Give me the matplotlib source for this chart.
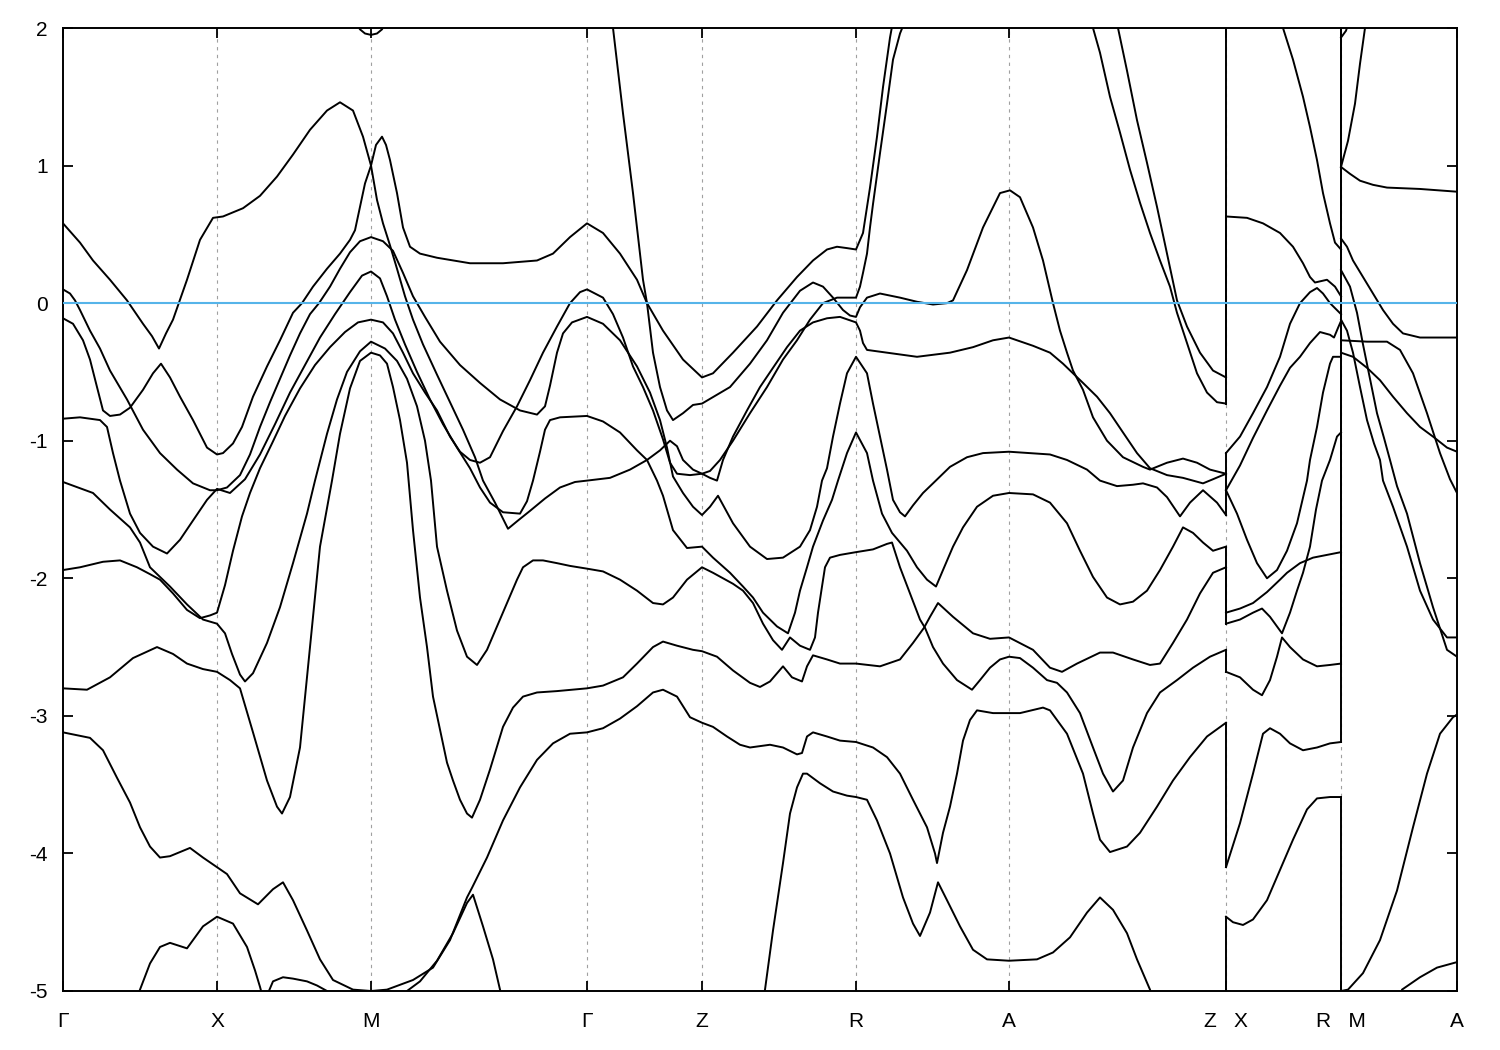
import matplotlib
matplotlib.use("Agg")
from matplotlib import pyplot as plt

plt.rcParams["font.family"] = ["Liberation Sans", "DejaVu Sans"]
plt.rcParams["axes.unicode_minus"] = False

# k-path positions (arbitrary path units) and labels
K_TICKS = [0.00, 1.54, 3.08, 5.24, 6.39, 7.93, 9.46, 11.63, 12.78, 13.94]
K_LABELS = ["Γ", "X", "M", "Γ", "Z", "R", "A", "Z   X", "R   M", "A"]
K_ZX = 11.63   # discontinuity Z | X
K_RM = 12.78   # discontinuity R | M
E_TICKS = [2, 1, 0, -1, -2, -3, -4, -5]

# band energies (eV) that lie outside the window at the jumps
Z_HIDDEN = [-5.6]
M_HIDDEN = [2.6]

# ---- path Γ-X-M-Γ-Z-R-A-Z : (k, E) ----
c01 = [(0.00, 0.58), (0.17, 0.44), (0.30, 0.31), (0.47, 0.17), (0.64, 0.02), (0.80, -0.15), (0.89, -0.24),
       (0.96, -0.33), (1.03, -0.22), (1.10, -0.12), (1.24, 0.17), (1.37, 0.46), (1.50, 0.62), (1.60, 0.63),
       (1.80, 0.69), (1.97, 0.78), (2.14, 0.92), (2.30, 1.08), (2.47, 1.26), (2.64, 1.40), (2.77, 1.46),
       (2.90, 1.40), (3.00, 1.21), (3.08, 1.00), (3.14, 0.75), (3.20, 0.58), (3.27, 0.42), (3.34, 0.25),
       (3.42, 0.05), (3.50, -0.12), (3.60, -0.30), (3.74, -0.52), (3.87, -0.72), (4.00, -0.92), (4.12, -1.12),
       (4.20, -1.29), (4.32, -1.45), (4.45, -1.64), (4.55, -1.58), (4.67, -1.51), (4.82, -1.42), (4.97, -1.34),
       (5.12, -1.30), (5.24, -1.29), (5.47, -1.27), (5.67, -1.21), (5.84, -1.14), (5.97, -1.07), (6.07, -1.00),
       (6.14, -1.04), (6.20, -1.14), (6.30, -1.21), (6.39, -1.24), (6.47, -1.27), (6.54, -1.29), (6.60, -1.14),
       (6.70, -0.97), (6.84, -0.78), (6.97, -0.61), (7.10, -0.47), (7.24, -0.32), (7.37, -0.20), (7.50, -0.14),
       (7.64, -0.11), (7.77, -0.10), (7.93, -0.14), (7.97, -0.20), (8.00, -0.29), (8.04, -0.34), (8.24, -0.36),
       (8.54, -0.39), (8.87, -0.36), (9.10, -0.32), (9.30, -0.27), (9.46, -0.25), (9.70, -0.31), (9.87, -0.36),
       (10.00, -0.44), (10.10, -0.51), (10.20, -0.58), (10.34, -0.68), (10.47, -0.80), (10.60, -0.94),
       (10.74, -1.09), (10.87, -1.20), (11.04, -1.25), (11.20, -1.27), (11.40, -1.31), (11.50, -1.28),
       (11.63, -1.24)]
c02 = [(0.00, 0.10), (0.07, 0.07), (0.12, 0.02), (0.17, -0.05), (0.27, -0.20), (0.37, -0.33), (0.47, -0.49),
       (0.64, -0.70), (0.80, -0.92), (0.97, -1.09), (1.14, -1.21), (1.30, -1.31), (1.47, -1.36), (1.54, -1.36),
       (1.64, -1.34), (1.77, -1.25), (1.87, -1.10), (1.97, -0.90), (2.07, -0.72), (2.17, -0.55), (2.27, -0.38),
       (2.37, -0.22), (2.47, -0.08), (2.56, 0.00), (2.67, 0.12), (2.77, 0.25), (2.87, 0.37), (2.97, 0.45),
       (3.08, 0.48), (3.20, 0.45), (3.30, 0.38), (3.40, 0.22), (3.50, 0.05), (3.62, -0.10), (3.77, -0.28),
       (3.97, -0.45), (4.17, -0.58), (4.37, -0.70), (4.57, -0.78), (4.74, -0.81), (4.82, -0.75), (4.87, -0.60),
       (4.94, -0.36), (5.00, -0.22), (5.09, -0.14), (5.24, -0.10), (5.40, -0.15), (5.57, -0.27), (5.74, -0.46),
       (5.87, -0.65), (5.97, -0.85), (6.04, -1.05), (6.10, -1.26), (6.20, -1.38), (6.30, -1.48), (6.39, -1.54),
       (6.47, -1.48), (6.55, -1.40), (6.70, -1.60), (6.87, -1.77), (7.04, -1.86), (7.20, -1.85), (7.37, -1.77),
       (7.47, -1.65), (7.54, -1.48), (7.59, -1.29), (7.64, -1.20), (7.70, -0.97), (7.77, -0.73), (7.84, -0.51),
       (7.93, -0.39), (8.04, -0.51), (8.10, -0.73), (8.17, -0.97), (8.24, -1.21), (8.30, -1.43), (8.37, -1.52),
       (8.42, -1.55), (8.50, -1.47), (8.60, -1.38), (8.70, -1.31), (8.87, -1.19), (9.04, -1.12), (9.20, -1.09),
       (9.46, -1.08), (9.87, -1.10), (10.04, -1.14), (10.24, -1.21), (10.37, -1.29), (10.54, -1.33),
       (10.70, -1.32), (10.80, -1.31), (10.94, -1.34), (11.04, -1.41), (11.17, -1.55), (11.27, -1.45),
       (11.40, -1.36), (11.54, -1.45), (11.63, -1.54)]
c03 = [(0.00, -0.11), (0.10, -0.15), (0.20, -0.27), (0.27, -0.41), (0.34, -0.61), (0.40, -0.78), (0.47, -0.82),
       (0.57, -0.81), (0.67, -0.76), (0.80, -0.63), (0.90, -0.51), (0.98, -0.44), (1.07, -0.54), (1.17, -0.68),
       (1.30, -0.85), (1.44, -1.05), (1.54, -1.10), (1.60, -1.09), (1.70, -1.02), (1.79, -0.90), (1.90, -0.68),
       (2.04, -0.46), (2.17, -0.27), (2.30, -0.07), (2.39, 0.00), (2.50, 0.12), (2.64, 0.25), (2.77, 0.36),
       (2.87, 0.46), (2.92, 0.53), (2.97, 0.70), (3.02, 0.87), (3.08, 1.00), (3.13, 1.15), (3.19, 1.21),
       (3.23, 1.15), (3.27, 1.04), (3.34, 0.80), (3.40, 0.55), (3.47, 0.41), (3.57, 0.36), (3.74, 0.33),
       (4.07, 0.29), (4.40, 0.29), (4.74, 0.31), (4.90, 0.36), (5.07, 0.48), (5.24, 0.58), (5.40, 0.51),
       (5.57, 0.36), (5.74, 0.17), (5.84, 0.00), (6.00, -0.20), (6.20, -0.41), (6.39, -0.54), (6.50, -0.51),
       (6.70, -0.36), (6.94, -0.17), (7.14, 0.02), (7.34, 0.19), (7.50, 0.31), (7.64, 0.39), (7.74, 0.41),
       (7.84, 0.40), (7.93, 0.39), (8.00, 0.51), (8.07, 0.84), (8.14, 1.21), (8.20, 1.57), (8.27, 1.93),
       (8.30, 2.05)]
c04 = [(0.00, -0.84), (0.17, -0.83), (0.37, -0.85), (0.44, -0.90), (0.50, -1.09), (0.57, -1.29), (0.67, -1.53),
       (0.77, -1.67), (0.90, -1.77), (1.04, -1.82), (1.17, -1.72), (1.30, -1.58), (1.44, -1.43), (1.54, -1.35),
       (1.67, -1.38), (1.82, -1.28), (1.97, -1.10), (2.12, -0.88), (2.27, -0.65), (2.42, -0.45), (2.57, -0.25),
       (2.72, -0.08), (2.87, 0.08), (2.99, 0.20), (3.08, 0.23), (3.17, 0.18), (3.24, 0.05), (3.32, -0.12),
       (3.42, -0.30), (3.54, -0.50), (3.67, -0.70), (3.80, -0.88), (3.94, -1.05), (4.07, -1.20), (4.17, -1.34),
       (4.27, -1.45), (4.40, -1.52), (4.57, -1.53), (4.64, -1.44), (4.70, -1.29), (4.77, -1.08), (4.82, -0.92),
       (4.87, -0.85), (4.97, -0.83), (5.24, -0.82), (5.40, -0.86), (5.57, -0.94), (5.74, -1.07), (5.84, -1.14),
       (5.94, -1.29), (6.00, -1.40), (6.10, -1.65), (6.24, -1.78), (6.39, -1.77), (6.50, -1.85), (6.67, -1.96),
       (6.80, -2.06), (6.90, -2.14), (7.00, -2.25), (7.14, -2.35), (7.25, -2.40), (7.32, -2.25), (7.37, -2.09),
       (7.44, -1.92), (7.50, -1.77), (7.60, -1.58), (7.69, -1.43), (7.75, -1.29), (7.84, -1.09), (7.93, -0.94),
       (8.04, -1.09), (8.10, -1.29), (8.19, -1.53), (8.29, -1.67), (8.44, -1.80), (8.54, -1.92), (8.64, -2.01),
       (8.73, -2.06), (8.80, -1.94), (8.90, -1.77), (9.00, -1.63), (9.14, -1.48), (9.30, -1.40), (9.46, -1.38),
       (9.70, -1.39), (9.87, -1.45), (10.04, -1.60), (10.17, -1.80), (10.30, -1.99), (10.44, -2.14),
       (10.57, -2.19), (10.70, -2.17), (10.84, -2.09), (10.97, -1.94), (11.10, -1.77), (11.20, -1.63),
       (11.30, -1.67), (11.40, -1.74), (11.50, -1.80), (11.63, -1.77)]
c05 = [(0.00, -1.30), (0.30, -1.38), (0.47, -1.50), (0.67, -1.63), (0.77, -1.74), (0.87, -1.92), (0.97, -1.99),
       (1.07, -2.06), (1.24, -2.19), (1.40, -2.30), (1.54, -2.33), (1.62, -2.40), (1.69, -2.55), (1.77, -2.70),
       (1.82, -2.75), (1.90, -2.69), (2.04, -2.47), (2.17, -2.21), (2.30, -1.89), (2.44, -1.53), (2.52, -1.29),
       (2.64, -0.95), (2.74, -0.70), (2.84, -0.50), (2.97, -0.35), (3.08, -0.28), (3.22, -0.33), (3.34, -0.42),
       (3.44, -0.55), (3.54, -0.75), (3.62, -1.00), (3.68, -1.29), (3.74, -1.77), (3.84, -2.09), (3.94, -2.38),
       (4.04, -2.57), (4.14, -2.63), (4.24, -2.52), (4.34, -2.35), (4.44, -2.18), (4.54, -2.01), (4.60, -1.92),
       (4.70, -1.87), (4.80, -1.87), (4.94, -1.89), (5.07, -1.91), (5.24, -1.93), (5.40, -1.95), (5.57, -2.01),
       (5.74, -2.09), (5.90, -2.18), (6.00, -2.19), (6.10, -2.14), (6.24, -2.01), (6.39, -1.92), (6.50, -1.96),
       (6.70, -2.04), (6.80, -2.09), (6.90, -2.18), (7.00, -2.33), (7.10, -2.45), (7.19, -2.52), (7.27, -2.43),
       (7.37, -2.49), (7.47, -2.52), (7.52, -2.43), (7.55, -2.25), (7.59, -2.06), (7.62, -1.92), (7.67, -1.85),
       (7.77, -1.83), (7.93, -1.81), (8.10, -1.79), (8.24, -1.75), (8.29, -1.74), (8.37, -1.92), (8.47, -2.11),
       (8.57, -2.30), (8.62, -2.36), (8.70, -2.50), (8.80, -2.62), (8.94, -2.74), (9.09, -2.81), (9.17, -2.74),
       (9.27, -2.65), (9.37, -2.59), (9.46, -2.57), (9.57, -2.58), (9.70, -2.65), (9.84, -2.74), (9.94, -2.76),
       (10.04, -2.83), (10.17, -2.98), (10.30, -3.23), (10.40, -3.42), (10.50, -3.55), (10.60, -3.47),
       (10.70, -3.23), (10.84, -2.98), (10.97, -2.83), (11.14, -2.74), (11.30, -2.65), (11.47, -2.57),
       (11.63, -2.52)]
c06 = [(0.00, -1.94), (0.17, -1.92), (0.40, -1.88), (0.57, -1.87), (0.74, -1.92), (0.87, -1.97), (0.97, -2.01),
       (1.10, -2.11), (1.24, -2.23), (1.37, -2.29), (1.47, -2.27), (1.54, -2.25), (1.62, -2.05), (1.70, -1.80),
       (1.79, -1.55), (1.87, -1.38), (1.97, -1.20), (2.09, -1.02), (2.22, -0.82), (2.37, -0.62), (2.52, -0.45),
       (2.67, -0.32), (2.82, -0.21), (2.95, -0.14), (3.08, -0.12), (3.20, -0.14), (3.30, -0.22), (3.40, -0.36),
       (3.50, -0.51), (3.62, -0.65), (3.74, -0.78), (3.87, -0.97), (3.97, -1.08), (4.07, -1.14), (4.17, -1.16),
       (4.27, -1.12), (4.40, -0.93), (4.54, -0.75), (4.67, -0.56), (4.80, -0.36), (4.94, -0.17), (5.07, 0.00),
       (5.17, 0.08), (5.24, 0.10), (5.40, 0.04), (5.50, -0.08), (5.60, -0.25), (5.70, -0.46), (5.80, -0.61),
       (5.90, -0.78), (6.00, -0.99), (6.07, -1.16), (6.14, -1.24), (6.27, -1.25), (6.39, -1.24), (6.47, -1.22),
       (6.57, -1.14), (6.70, -1.00), (6.87, -0.80), (7.04, -0.61), (7.20, -0.41), (7.34, -0.27), (7.47, -0.12),
       (7.60, 0.00), (7.74, 0.04), (7.93, 0.04), (7.97, 0.12), (8.00, 0.22), (8.04, 0.36), (8.07, 0.55),
       (8.10, 0.72), (8.17, 1.09), (8.24, 1.45), (8.30, 1.77), (8.37, 1.96), (8.42, 2.05)]
c07 = [(0.00, -2.80), (0.24, -2.81), (0.47, -2.72), (0.70, -2.58), (0.94, -2.50), (1.10, -2.55), (1.24, -2.62),
       (1.40, -2.66), (1.54, -2.68), (1.67, -2.74), (1.77, -2.80), (1.90, -3.12), (2.04, -3.47), (2.14, -3.66),
       (2.19, -3.71), (2.27, -3.59), (2.37, -3.23), (2.47, -2.50), (2.57, -1.77), (2.69, -1.29), (2.77, -0.95),
       (2.87, -0.62), (2.97, -0.42), (3.08, -0.36), (3.17, -0.38), (3.24, -0.44), (3.30, -0.61), (3.37, -0.85),
       (3.44, -1.16), (3.50, -1.65), (3.57, -2.14), (3.64, -2.50), (3.70, -2.86), (3.77, -3.10), (3.84, -3.34),
       (3.90, -3.47), (3.97, -3.61), (4.04, -3.71), (4.09, -3.74), (4.17, -3.61), (4.27, -3.39), (4.40, -3.08),
       (4.50, -2.94), (4.60, -2.86), (4.74, -2.83), (4.94, -2.82), (5.24, -2.80), (5.40, -2.78), (5.60, -2.72),
       (5.74, -2.62), (5.90, -2.50), (6.00, -2.46), (6.14, -2.49), (6.30, -2.52), (6.39, -2.53), (6.54, -2.57),
       (6.70, -2.67), (6.87, -2.76), (6.97, -2.79), (7.07, -2.75), (7.20, -2.64), (7.29, -2.72), (7.39, -2.75),
       (7.44, -2.64), (7.50, -2.56), (7.64, -2.59), (7.77, -2.62), (7.93, -2.62), (8.17, -2.64), (8.37, -2.59),
       (8.50, -2.47), (8.61, -2.36), (8.67, -2.28), (8.75, -2.18), (8.90, -2.28), (9.10, -2.40), (9.27, -2.44),
       (9.46, -2.43), (9.70, -2.52), (9.87, -2.65), (9.99, -2.68), (10.14, -2.62), (10.37, -2.54),
       (10.50, -2.54), (10.70, -2.59), (10.87, -2.63), (10.97, -2.62), (11.10, -2.47), (11.24, -2.30),
       (11.37, -2.11), (11.50, -1.96), (11.63, -1.92)]
c08 = [(0.00, -3.12), (0.27, -3.16), (0.40, -3.25), (0.54, -3.45), (0.67, -3.63), (0.77, -3.81), (0.87, -3.95),
       (0.97, -4.03), (1.07, -4.02), (1.27, -3.96), (1.40, -4.03), (1.54, -4.10), (1.64, -4.15), (1.77, -4.29),
       (1.95, -4.37), (2.10, -4.26), (2.20, -4.21), (2.30, -4.34), (2.44, -4.56), (2.57, -4.77), (2.70, -4.92),
       (2.90, -4.99), (3.08, -5.00), (3.24, -4.99), (3.50, -4.92), (3.70, -4.83), (3.87, -4.63), (4.04, -4.32),
       (4.09, -4.25), (4.24, -4.03), (4.40, -3.76), (4.57, -3.52), (4.74, -3.32), (4.90, -3.20), (5.07, -3.13),
       (5.24, -3.12), (5.40, -3.09), (5.57, -3.02), (5.74, -2.93), (5.90, -2.83), (6.00, -2.81), (6.14, -2.86),
       (6.27, -3.01), (6.39, -3.05), (6.50, -3.08), (6.64, -3.15), (6.77, -3.21), (6.87, -3.23), (7.07, -3.21),
       (7.20, -3.23), (7.34, -3.28), (7.39, -3.27), (7.44, -3.15), (7.50, -3.12), (7.64, -3.15), (7.77, -3.18),
       (7.93, -3.19), (8.10, -3.23), (8.24, -3.30), (8.37, -3.42), (8.50, -3.61), (8.64, -3.81), (8.72, -4.00),
       (8.74, -4.07), (8.80, -3.85), (8.87, -3.66), (8.94, -3.42), (9.00, -3.18), (9.07, -3.03), (9.14, -2.96),
       (9.30, -2.98), (9.46, -2.98), (9.57, -2.98), (9.80, -2.94), (9.87, -2.96), (10.04, -3.13), (10.20, -3.42),
       (10.30, -3.71), (10.37, -3.90), (10.47, -3.99), (10.64, -3.95), (10.77, -3.85), (10.94, -3.66),
       (11.10, -3.47), (11.27, -3.30), (11.44, -3.15), (11.63, -3.05)]
c09 = [(0.74, -5.05), (0.77, -4.99), (0.87, -4.80), (0.97, -4.68), (1.07, -4.65), (1.24, -4.69), (1.40, -4.53),
       (1.54, -4.46), (1.70, -4.51), (1.84, -4.68), (1.92, -4.85), (1.97, -4.97), (2.00, -5.05)]
c10 = [(2.03, -5.05), (2.10, -4.93), (2.20, -4.90), (2.30, -4.91), (2.44, -4.93), (2.54, -4.96), (2.64, -5.00),
       (2.72, -5.05)]
c11 = [(3.37, -5.05), (3.44, -5.00), (3.57, -4.93), (3.74, -4.78), (3.90, -4.58), (4.04, -4.36), (4.10, -4.30),
       (4.20, -4.53), (4.30, -4.77), (4.37, -4.99), (4.39, -5.05)]
c12 = [(7.00, -5.05), (7.02, -4.99), (7.10, -4.56), (7.20, -4.07), (7.27, -3.71), (7.34, -3.52), (7.40, -3.42),
       (7.44, -3.42), (7.57, -3.49), (7.70, -3.55), (7.84, -3.58), (7.93, -3.59), (8.04, -3.61), (8.14, -3.76),
       (8.27, -4.00), (8.40, -4.32), (8.50, -4.51), (8.57, -4.60), (8.67, -4.43), (8.75, -4.21), (8.84, -4.34),
       (8.97, -4.53), (9.10, -4.70), (9.24, -4.77), (9.46, -4.78), (9.74, -4.77), (9.90, -4.72), (10.07, -4.61),
       (10.24, -4.43), (10.37, -4.32), (10.50, -4.41), (10.64, -4.58), (10.74, -4.77), (10.87, -4.99),
       (10.89, -5.05)]
c13 = [(5.49, 2.05), (5.50, 2.00), (5.60, 1.38), (5.70, 0.80), (5.80, 0.17), (5.84, 0.00), (5.90, -0.36),
       (5.97, -0.61), (6.04, -0.78), (6.10, -0.85), (6.20, -0.80), (6.30, -0.74), (6.39, -0.73), (6.67, -0.61),
       (6.87, -0.44), (7.04, -0.27), (7.20, -0.07), (7.37, 0.09), (7.50, 0.15), (7.60, 0.12), (7.70, 0.04),
       (7.80, -0.05), (7.87, -0.09), (7.93, -0.10), (7.97, -0.03), (8.04, 0.04), (8.17, 0.07), (8.37, 0.04),
       (8.54, 0.01), (8.70, -0.01), (8.84, 0.00), (8.90, 0.02), (9.04, 0.24), (9.20, 0.55), (9.37, 0.80),
       (9.47, 0.82), (9.57, 0.77), (9.70, 0.55), (9.80, 0.31), (9.90, 0.00), (9.97, -0.20), (10.04, -0.36),
       (10.10, -0.49), (10.20, -0.63), (10.30, -0.83), (10.44, -1.00), (10.60, -1.12), (10.80, -1.19),
       (10.87, -1.21), (11.04, -1.16), (11.20, -1.13), (11.34, -1.16), (11.47, -1.21), (11.63, -1.24)]
c14 = [(10.29, 2.05), (10.30, 2.00), (10.37, 1.82), (10.47, 1.50), (10.57, 1.24), (10.67, 0.97), (10.77, 0.73),
       (10.87, 0.51), (10.97, 0.31), (11.07, 0.12), (11.14, -0.07), (11.24, -0.29), (11.34, -0.51),
       (11.44, -0.65), (11.54, -0.72), (11.63, -0.73)]
c15 = [(10.54, 2.05), (10.55, 2.00), (10.64, 1.69), (10.74, 1.33), (10.84, 1.02), (10.94, 0.70), (11.04, 0.36),
       (11.14, 0.02), (11.24, -0.17), (11.37, -0.36), (11.50, -0.49), (11.63, -0.54)]
c16 = [(2.92, 2.05), (2.97, 1.99), (3.02, 1.96), (3.08, 1.95), (3.14, 1.96), (3.19, 1.99), (3.23, 2.05)]

# ---- path X-R ----
d01 = [(11.63, 2.60), (12.19, 2.05), (12.20, 2.00), (12.30, 1.77), (12.40, 1.50), (12.47, 1.28), (12.54, 1.04),
       (12.60, 0.80), (12.67, 0.58), (12.72, 0.44), (12.78, 0.39)]
d02 = [(11.63, 0.63), (11.84, 0.62), (12.00, 0.58), (12.17, 0.51), (12.30, 0.41), (12.40, 0.29), (12.47, 0.19),
       (12.52, 0.15), (12.58, 0.16), (12.64, 0.17), (12.72, 0.12), (12.78, 0.05)]
d03 = [(11.63, -1.09), (11.77, -0.97), (11.90, -0.80), (12.04, -0.61), (12.17, -0.39), (12.27, -0.15),
       (12.37, 0.00), (12.47, 0.08), (12.54, 0.11), (12.60, 0.07), (12.67, 0.00), (12.78, -0.08)]
d04 = [(11.63, -1.36), (11.77, -1.18), (11.90, -0.98), (12.04, -0.78), (12.17, -0.60), (12.27, -0.47),
       (12.37, -0.39), (12.47, -0.29), (12.57, -0.21), (12.67, -0.23), (12.71, -0.25), (12.75, -0.18),
       (12.78, -0.13)]
d05 = [(11.63, -1.36), (11.74, -1.53), (11.84, -1.72), (11.94, -1.89), (12.04, -2.00), (12.14, -1.94),
       (12.24, -1.80), (12.34, -1.60), (12.44, -1.29), (12.47, -1.14), (12.54, -0.90), (12.60, -0.65),
       (12.67, -0.44), (12.70, -0.39), (12.78, -0.39)]
d06 = [(11.63, -2.25), (11.77, -2.22), (11.90, -2.18), (12.04, -2.10), (12.17, -2.01), (12.24, -1.96),
       (12.37, -1.89), (12.50, -1.85), (12.78, -1.81)]
d07 = [(11.63, -2.33), (11.77, -2.30), (11.90, -2.25), (11.99, -2.22), (12.07, -2.28), (12.19, -2.40),
       (12.27, -2.25), (12.34, -2.09), (12.40, -1.96), (12.47, -1.77), (12.53, -1.50), (12.59, -1.29),
       (12.67, -1.14), (12.74, -0.97), (12.78, -0.94)]
d08 = [(11.63, -2.68), (11.77, -2.72), (11.90, -2.81), (11.99, -2.85), (12.07, -2.74), (12.14, -2.57),
       (12.19, -2.43), (12.27, -2.50), (12.40, -2.59), (12.54, -2.64), (12.67, -2.63), (12.78, -2.62)]
d09 = [(11.63, -4.10), (11.77, -3.78), (11.90, -3.42), (12.00, -3.13), (12.07, -3.09), (12.17, -3.13),
       (12.27, -3.20), (12.40, -3.25), (12.54, -3.23), (12.67, -3.20), (12.78, -3.19)]
d10 = [(11.63, -4.46), (11.70, -4.50), (11.80, -4.52), (11.90, -4.48), (12.04, -4.34), (12.17, -4.12),
       (12.30, -3.90), (12.44, -3.68), (12.54, -3.60), (12.67, -3.59), (12.78, -3.59)]

# ---- path M-A ----
e01 = [(12.78, 1.93), (12.83, 1.98), (12.86, 2.05)]
e02 = [(12.78, 0.99), (12.85, 1.18), (12.92, 1.45), (12.97, 1.74), (13.02, 2.00), (13.03, 2.05)]
e03 = [(12.78, 0.99), (12.87, 0.94), (12.97, 0.89), (13.10, 0.86), (13.24, 0.84), (13.57, 0.83), (13.94, 0.81)]
e04 = [(12.78, 0.47), (12.84, 0.41), (12.90, 0.31), (13.00, 0.19), (13.10, 0.07), (13.20, -0.05), (13.30, -0.15),
       (13.40, -0.22), (13.57, -0.25), (13.74, -0.25), (13.94, -0.25)]
e05 = [(12.78, 0.24), (12.87, 0.12), (12.94, -0.07), (13.00, -0.30), (13.07, -0.55), (13.14, -0.80),
       (13.21, -0.98), (13.27, -1.14), (13.34, -1.33), (13.44, -1.53), (13.57, -1.89), (13.70, -2.21),
       (13.84, -2.52), (13.94, -2.57)]
e06 = [(12.78, -0.12), (12.84, -0.20), (12.90, -0.36), (12.97, -0.61), (13.04, -0.85), (13.11, -1.02),
       (13.17, -1.14), (13.20, -1.29), (13.30, -1.48), (13.44, -1.77), (13.57, -2.09), (13.70, -2.30),
       (13.84, -2.43), (13.94, -2.43)]
e07 = [(12.78, -0.27), (13.04, -0.28), (13.24, -0.28), (13.37, -0.34), (13.50, -0.51), (13.64, -0.80),
       (13.77, -1.09), (13.87, -1.28), (13.94, -1.38)]
e08 = [(12.78, -0.36), (12.90, -0.39), (13.04, -0.47), (13.17, -0.56), (13.30, -0.68), (13.44, -0.80),
       (13.57, -0.90), (13.70, -0.97), (13.84, -1.05), (13.94, -1.08)]
e09 = [(12.78, -5.00), (12.85, -4.99), (13.00, -4.87), (13.17, -4.63), (13.34, -4.27), (13.50, -3.81),
       (13.64, -3.42), (13.77, -3.13), (13.90, -3.01), (13.94, -2.99)]
e10 = [(13.37, -5.05), (13.39, -4.99), (13.57, -4.90), (13.74, -4.83), (13.94, -4.79)]

PATH1 = [c01, c02, c03, c04, c05, c06, c07, c08, c09, c10, c11, c12, c13, c14, c15, c16]
PATH2 = [d01, d02, d03, d04, d05, d06, d07, d08, d09, d10]
PATH3 = [e01, e02, e03, e04, e05, e06, e07, e08, e09, e10]

####################################################################

LW = 1.4
BAND_COLOR = "black"
FERMI_COLOR = "#56b4e9"

fig = plt.figure(figsize=(15, 10.5), dpi=100)
ax = fig.add_axes([63 / 1500, 59 / 1050, 1394 / 1500, 963 / 1050])

# dashed guides at the high-symmetry points
for k in K_TICKS[1:-1]:
    ax.axvline(k, color="#a0a0a0", lw=0.8, ls=(0, (3, 4)), zorder=1)

for band in PATH1 + PATH2 + PATH3:
    ks, es = zip(*band)
    ax.plot(ks, es, color=BAND_COLOR, lw=LW, zorder=2, solid_joinstyle="round")


def ends_at(paths, k, first):
    idx = 0 if first else -1
    return [p[idx][1] for p in paths if abs(p[idx][0] - k) < 1e-6]


def draw_jump(k, left, right):
    # bands are joined by index (sorted by energy) across the discontinuity
    for a, b in zip(sorted(left, reverse=True), sorted(right, reverse=True)):
        ax.plot([k, k], [a, b], color=BAND_COLOR, lw=LW, zorder=2)


draw_jump(K_ZX, ends_at(PATH1, K_ZX, False) + Z_HIDDEN, ends_at(PATH2, K_ZX, True))
draw_jump(K_RM, ends_at(PATH2, K_RM, False), ends_at(PATH3, K_RM, True) + M_HIDDEN)

ax.axhline(0, color=FERMI_COLOR, lw=1.5, zorder=3)

ax.set_xlim(K_TICKS[0], K_TICKS[-1])
ax.set_ylim(-5, 2)
ax.set_xticks(K_TICKS)
ax.set_xticklabels(K_LABELS)
ax.set_yticks(E_TICKS)
ax.set_yticklabels([str(v) for v in E_TICKS])
ax.tick_params(axis="both", direction="in", top=True, right=True, length=7, width=1.3,
               labelsize=15, color="black")
ax.tick_params(axis="x", pad=15)
ax.tick_params(axis="y", pad=11)
for s in ax.spines.values():
    s.set_linewidth(1.4)

fig.savefig("out.png", dpi=100)
